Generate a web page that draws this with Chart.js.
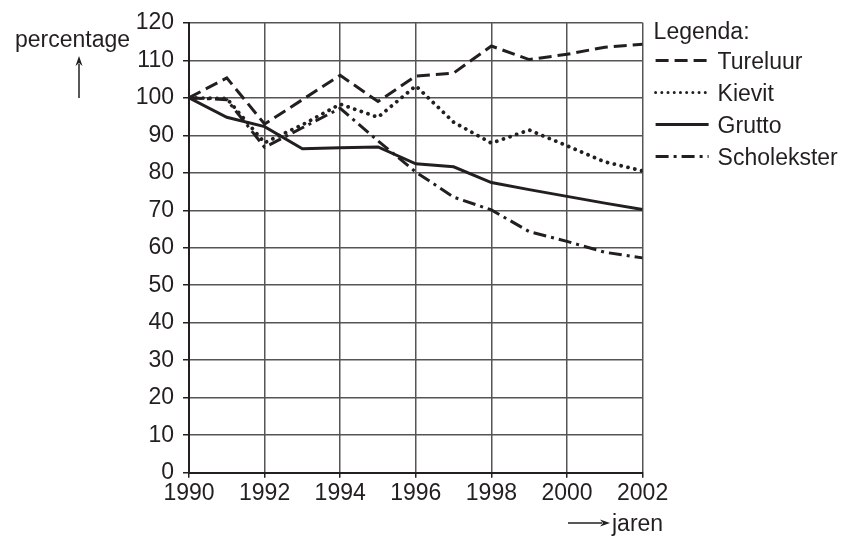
<!DOCTYPE html>
<html>
<head>
<meta charset="utf-8">
<script src="https://cdn.jsdelivr.net/npm/chart.js@4/dist/chart.umd.min.js"></script>
<style>
  html, body { margin: 0; padding: 0; background: #fff; }
  canvas { display: block; }
</style>
</head>
<body>
<canvas id="c" width="846" height="537"></canvas>
<script>
const years = [1990, 1991, 1992, 1993, 1994, 1995, 1996, 1997, 1998, 1999, 2000, 2001, 2002];
const tureluur    = [100, 105.3, 93, 99.5, 106, 99, 105.8, 106.6, 113.8, 110.2, 111.6, 113.5, 114.3];
const kievit      = [100, 99.8, 88, 92.8, 98.3, 94.8, 103.2, 93.5, 87.9, 91.4, 87.2, 82.9, 80.5];
const grutto      = [100, 94.8, 92.3, 86.4, 86.7, 86.9, 82.4, 81.6, 77.4, 75.5, 73.7, 71.9, 70.2];
const scholekster = [100, 99.5, 86.8, 92, 97.2, 88.5, 80.2, 73.5, 70.1, 64.3, 61.7, 58.8, 57.3];
const seriesNames = ["Tureluur", "Kievit", "Grutto", "Scholekster"];
const xTicks = [1990, 1992, 1994, 1996, 1998, 2000, 2002];
const yMin = 0, yMax = 120, yStep = 10;
const legendTitle = "Legenda:";
const yTitle = "percentage";
const xTitle = "jaren";

const INK = "#231f20";
const FONT = '"Liberation Sans", Arial, Helvetica, sans-serif';
Chart.defaults.font.family = FONT;
Chart.defaults.font.size = 23;
Chart.defaults.color = INK;

const toXY = vals => years.map((y, i) => ({ x: y, y: vals[i] }));

const styles = [
  { borderDash: [13, 6], borderCapStyle: "butt", width: 3 },
  { borderDash: [0.01, 7], borderCapStyle: "round", width: 3.8 },
  { borderDash: [], borderCapStyle: "butt", width: 3 },
  { borderDash: [13, 5, 3, 5], borderCapStyle: "butt", width: 3 }
];
const allVals = [tureluur, kievit, grutto, scholekster];

const datasets = allVals.map((v, i) => ({
  label: seriesNames[i],
  data: toXY(v),
  borderColor: INK,
  borderWidth: styles[i].width,
  borderDash: styles[i].borderDash,
  borderCapStyle: styles[i].borderCapStyle,
  borderJoinStyle: "miter",
  pointRadius: 0,
  tension: 0,
  fill: false
}));

function arrow(ctx, x1, y1, x2, y2) {
  ctx.save();
  ctx.strokeStyle = INK; ctx.fillStyle = INK; ctx.lineWidth = 1.5; ctx.setLineDash([]);
  const a = Math.atan2(y2 - y1, x2 - x1);
  const hl = 10, hw = 3.5;
  ctx.beginPath(); ctx.moveTo(x1, y1);
  ctx.lineTo(x2 - Math.cos(a) * hl * 0.8, y2 - Math.sin(a) * hl * 0.8); ctx.stroke();
  ctx.beginPath();
  ctx.moveTo(x2, y2);
  ctx.lineTo(x2 - Math.cos(a) * hl - Math.sin(a) * hw, y2 - Math.sin(a) * hl + Math.cos(a) * hw);
  ctx.lineTo(x2 - Math.cos(a) * hl * 0.7, y2 - Math.sin(a) * hl * 0.7);
  ctx.lineTo(x2 - Math.cos(a) * hl + Math.sin(a) * hw, y2 - Math.sin(a) * hl - Math.cos(a) * hw);
  ctx.closePath(); ctx.fill();
  ctx.restore();
}

const decorations = {
  id: "decorations",
  afterDraw(chart) {
    const ctx = chart.ctx;
    const area = chart.chartArea;
    ctx.save();
    ctx.fillStyle = INK;
    ctx.font = "23px " + FONT;
    ctx.textBaseline = "alphabetic";
    ctx.textAlign = "left";
    ctx.fillText(yTitle, 15, 46.5);
    arrow(ctx, 79, 98, 79, 56);
    ctx.fillText(xTitle, 612, 531);
    arrow(ctx, 568, 523, 610, 523);
    const lx0 = area.right + 13, lx1 = area.right + 66, tx = area.right + 75;
    ctx.fillText(legendTitle, lx0 - 2, 38.5);
    chart.data.datasets.forEach((ds, i) => {
      const base = 68.5 + i * 32;
      const ly = base - 8;
      ctx.save();
      ctx.strokeStyle = ds.borderColor;
      ctx.lineWidth = i === 1 ? 3 : ds.borderWidth;
      ctx.setLineDash(i === 1 ? [0.01, 6.2] : (ds.borderDash || []));
      ctx.lineCap = ds.borderCapStyle;
      ctx.beginPath(); ctx.moveTo(lx0, ly); ctx.lineTo(lx1, ly); ctx.stroke();
      ctx.restore();
      ctx.fillText(ds.label, tx, base);
    });
    ctx.restore();
  }
};

new Chart(document.getElementById("c"), {
  type: "line",
  data: { datasets },
  plugins: [decorations],
  options: {
    responsive: false,
    animation: false,
    layout: { padding: { left: 0, right: 846 - 642.6, top: 20, bottom: 0 } },
    plugins: { legend: { display: false }, tooltip: { enabled: false } },
    scales: {
      x: {
        type: "linear",
        min: years[0], max: years[years.length - 1],
        afterBuildTicks: s => { s.ticks = xTicks.map(v => ({ value: v })); },
        afterFit: s => { s.height = 537 - 472.7; },
        ticks: { callback: v => String(v), padding: 2, maxRotation: 0, autoSkip: false, color: INK, font: { size: 23 } },
        grid: { color: "#555", lineWidth: 1.5, tickLength: 5, tickColor: INK },
        border: { display: true, color: INK, width: 2 }
      },
      y: {
        min: yMin, max: yMax,
        ticks: { stepSize: yStep, padding: 9, color: INK, font: { size: 23 } },
        afterFit: s => { s.width = 189; },
        grid: { color: "#555", lineWidth: 1.5, tickLength: 6, tickColor: INK },
        border: { display: true, color: INK, width: 2 }
      }
    }
  }
});
</script>
</body>
</html>
